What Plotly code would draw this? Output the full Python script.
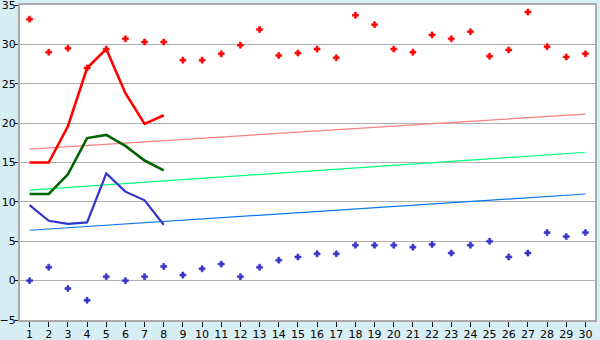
import plotly.graph_objects as go

days = list(range(1, 31))
max_points = [33.2, 29.0, 29.5, 27.0, 29.4, 30.7, 30.3, 30.3, 28.0, 28.0,
              28.8, 29.9, 31.9, 28.6, 28.9, 29.4, 28.3, 33.7, 32.5, 29.4,
              29.0, 31.2, 30.7, 31.6, 28.5, 29.3, 34.1, 29.7, 28.4, 28.8]
min_points = [0.0, 1.7, -1.0, -2.5, 0.5, 0.0, 0.5, 1.8, 0.7, 1.5,
              2.1, 0.5, 1.7, 2.6, 3.0, 3.4, 3.4, 4.5, 4.5, 4.5,
              4.25, 4.6, 3.5, 4.5, 5.0, 3.0, 3.5, 6.1, 5.6, 6.1]
line_days = [1, 2, 3, 4, 5, 6, 7, 8]
red_line = [15.0, 15.0, 19.6, 27.0, 29.4, 23.8, 19.9, 21.0]
green_line = [11.0, 11.0, 13.5, 18.1, 18.5, 17.1, 15.25, 14.0]
blue_line = [9.6, 7.6, 7.2, 7.4, 13.6, 11.3, 10.2, 7.1]
trend_days = [1, 30]
red_trend = [16.7, 21.15]
green_trend = [11.5, 16.3]
blue_trend = [6.4, 11.0]
y_ticks = [-5, 0, 5, 10, 15, 20, 25, 30, 35]

fig = go.Figure()
for ys, col in [(red_trend, "#FF7F7F"), (green_trend, "#00FF7F"), (blue_trend, "#0A78F0")]:
    fig.add_trace(go.Scatter(x=trend_days, y=ys, mode="lines",
                             line=dict(color=col, width=1.2), hoverinfo="skip"))
fig.add_trace(go.Scatter(x=line_days, y=blue_line, mode="lines",
                         line=dict(color="#3434C8", width=2.2), hoverinfo="skip"))
fig.add_trace(go.Scatter(x=line_days, y=green_line, mode="lines",
                         line=dict(color="#006400", width=2.6), hoverinfo="skip"))
fig.add_trace(go.Scatter(x=line_days, y=red_line, mode="lines",
                         line=dict(color="#FF0000", width=2.6), hoverinfo="skip"))
fig.add_trace(go.Scatter(x=days, y=max_points, mode="markers",
                         marker=dict(symbol="cross", size=5, color="#FF0000",
                                     line=dict(width=0.6, color="#FF0000")),
                         hoverinfo="skip"))
fig.add_trace(go.Scatter(x=days, y=min_points, mode="markers",
                         marker=dict(symbol="cross", size=5, color="#3434C8",
                                     line=dict(width=0.6, color="#3434C8")),
                         hoverinfo="skip"))

fig.update_layout(
    width=600, height=340,
    margin=dict(l=20, r=5, t=5, b=20),
    paper_bgcolor="#D8EEF5",
    plot_bgcolor="#FFFFFF",
    showlegend=False,
    font=dict(family="DejaVu Sans", size=11, color="#000000"),
)
fig.update_xaxes(
    range=[0.5, 30.5], tickmode="array", tickvals=days,
    ticktext=[str(d) for d in days], automargin=False,
    showgrid=False, zeroline=False,
    showline=True, linecolor="#AAAAAA", linewidth=2, mirror=True,
    ticks="outside", ticklen=5, tickcolor="#000000", tickwidth=1,
    ticklabelstandoff=-2, ticklabeloverflow="allow",
)
fig.update_yaxes(
    range=[-5, 35], tickmode="array", tickvals=y_ticks,
    ticktext=[str(v).replace("-", "\u2212") for v in y_ticks], automargin=False,
    showgrid=True, gridcolor="#B0B0B0", gridwidth=1, zeroline=False,
    showline=True, linecolor="#AAAAAA", linewidth=2, mirror=True,
    ticks="outside", ticklen=3, tickcolor="#000000", tickwidth=1,
    ticklabelstandoff=-3, ticklabeloverflow="allow",
)

fig.write_html("out.html", config={"displayModeBar": False})
